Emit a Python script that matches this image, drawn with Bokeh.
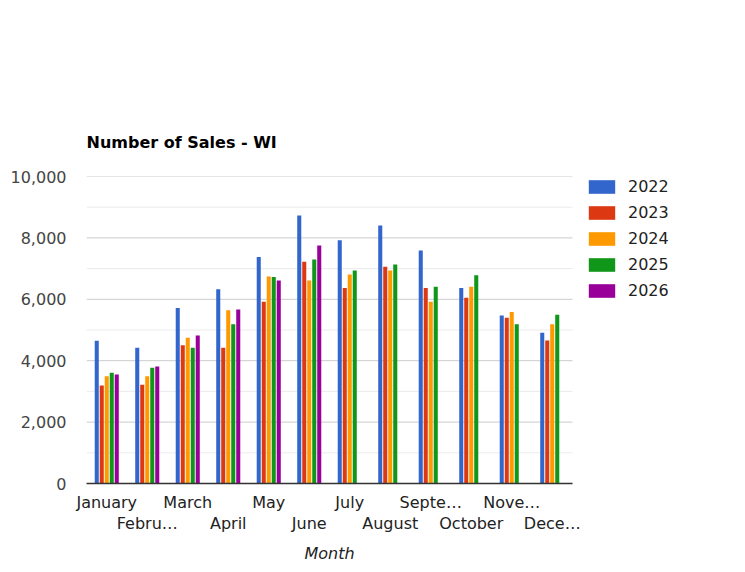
import numpy as np
from bokeh.plotting import figure
from bokeh.models import (Range1d, FixedTicker, NumeralTickFormatter, LinearAxis,
                          CustomJSTickFormatter, Legend, LegendItem, ColumnDataSource, Title)
from bokeh.transform import dodge
from bokeh.embed import file_html
from bokeh.resources import INLINE

# ---------------- data ----------------
months = ["January", "February", "March", "April", "May", "June",
          "July", "August", "September", "October", "November", "December"]
month_labels = ["January", "Febru…", "March", "April", "May", "June",
                "July", "August", "Septe…", "October", "Nove…", "Dece…"]
years = ["2022", "2023", "2024", "2025", "2026"]
sales_2022 = [4650, 4420, 5720, 6330, 7380, 8730, 7920, 8400, 7590, 6370, 5470, 4910]
sales_2023 = [3190, 3220, 4500, 4420, 5920, 7220, 6370, 7060, 6370, 6050, 5400, 4660]
sales_2024 = [3490, 3490, 4750, 5640, 6740, 6610, 6810, 6940, 5920, 6410, 5590, 5190]
sales_2025 = [3610, 3770, 4420, 5190, 6730, 7300, 6940, 7130, 6410, 6780, 5190, 5500]
sales_2026 = [3550, 3810, 4820, 5670, 6610, 7750, np.nan, np.nan, np.nan, np.nan, np.nan, np.nan]
y_ticks = [0, 2000, 4000, 6000, 8000, 10000]
y_minor = [1000, 3000, 5000, 7000, 9000]
colors = ["#3366cc", "#dc3912", "#ff9900", "#109618", "#990099"]

series = [sales_2022, sales_2023, sales_2024, sales_2025, sales_2026]

FONT = "DejaVu Sans"
W, H = 745, 572
LEFT, RIGHT = 86, 5
PLOT_PX = 486          # pixel width used by the 12 month slots
frame_px = W - LEFT - RIGHT
n = len(months)
x_end = n * frame_px / PLOT_PX   # extra room on the right for the legend

src = ColumnDataSource(dict(
    x=[i + 0.5 for i in range(n)],
    **{y: s for y, s in zip(years, series)}
))

p = figure(width=W, height=H, output_backend="svg", toolbar_location=None,
           x_range=Range1d(0, x_end), y_range=Range1d(0, 10000),
           min_border_left=LEFT, min_border_right=RIGHT, min_border_top=176,
           min_border_bottom=89)
p.background_fill_color = "white"
p.border_fill_color = "white"
p.outline_line_color = None
p.xgrid.grid_line_color = None
p.ygrid.grid_line_color = None

# gridlines limited to the month area
p.segment(x0=0, x1=n, y0=y_minor, y1=y_minor, line_color="#ebebeb", line_width=1,
          level="underlay")
p.segment(x0=0, x1=n, y0=y_ticks, y1=y_ticks, line_color="#cccccc", line_width=1,
          level="underlay")

pitch = 0.1235
items = []
for j, (yr, col) in enumerate(zip(years, colors)):
    r = p.vbar(x=dodge("x", (j - 2) * pitch, range=p.x_range), top=yr, width=0.1,
               source=src, fill_color=col, line_color=None)
    items.append(LegendItem(label=yr, renderers=[r]))

# title
p.title.text = "Number of Sales - WI"
p.title.text_font = FONT
p.title.text_font_size = "16px"
p.title.text_font_style = "bold"
p.title.text_color = "#000000"
p.title.standoff = 50

# y axis
p.yaxis.ticker = FixedTicker(ticks=y_ticks, minor_ticks=y_minor)
p.yaxis.formatter = NumeralTickFormatter(format="0,0")
p.yaxis.axis_line_color = None
p.yaxis.major_tick_line_color = None
p.yaxis.minor_tick_line_color = None
p.yaxis.major_label_text_font = FONT
p.yaxis.major_label_text_font_size = "16px"
p.yaxis.major_label_text_color = "#444444"
p.yaxis.major_label_standoff = 14

fmt = CustomJSTickFormatter(args=dict(labels=month_labels),
                            code="return labels[Math.floor(tick)];")

# first row of month labels
xa = p.xaxis[0]
xa.bounds = (0, n)
xa.ticker = FixedTicker(ticks=[i + 0.5 for i in range(0, n, 2)])
xa.formatter = fmt
xa.axis_line_color = "#333333"
xa.axis_line_width = 1.5
xa.major_tick_line_color = None
xa.minor_tick_line_color = None
xa.major_label_text_font = FONT
xa.major_label_text_font_size = "16px"
xa.major_label_text_color = "#222222"
xa.major_label_standoff = 3

# second row of month labels
xa2 = LinearAxis(ticker=FixedTicker(ticks=[i + 0.5 for i in range(1, n, 2)]),
                 formatter=fmt, bounds=(0, n))
xa2.axis_line_color = None
xa2.major_tick_line_color = None
xa2.minor_tick_line_color = None
xa2.major_label_text_font = FONT
xa2.major_label_text_font_size = "16px"
xa2.major_label_text_color = "#222222"
xa2.major_label_standoff = -7
p.add_layout(xa2, "below")

# axis title "Month", centred under the month area
p.add_layout(Title(text="Month", align="left", offset=PLOT_PX / 2 - 25,
                   text_font=FONT, text_font_size="16px", text_font_style="italic",
                   text_color="#222222", standoff=12), "below")

legend = Legend(items=items, location=(499, 183), orientation="vertical",
                glyph_width=33, glyph_height=17, label_standoff=10,
                label_text_font=FONT, label_text_font_size="16px",
                label_text_color="#222222", spacing=7, padding=0, margin=0,
                border_line_color=None, background_fill_alpha=0)
p.add_layout(legend, "center")

open("out.html", "w").write(file_html(p, INLINE))
